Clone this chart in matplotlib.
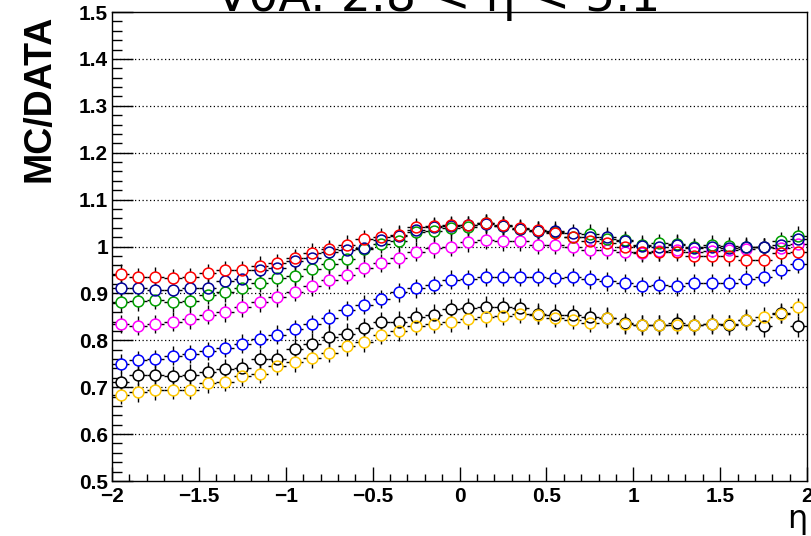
import numpy as np
import matplotlib
matplotlib.use("Agg")
import matplotlib.pyplot as plt
from matplotlib import font_manager
from matplotlib.ticker import MultipleLocator, FuncFormatter

# eta binning: 40 bins between -2 and 2
bin_edges = np.linspace(-2.0, 2.0, 41)
eta = 0.5 * (bin_edges[:-1] + bin_edges[1:])
eta_halfwidth = 0.5 * np.diff(bin_edges)

ratio_red = [0.942, 0.935, 0.936, 0.933, 0.935, 0.943, 0.950, 0.949, 0.959, 0.965,
             0.975, 0.987, 0.994, 1.004, 1.016, 1.020, 1.025, 1.041, 1.043, 1.046,
             1.046, 1.050, 1.046, 1.039, 1.035, 1.028, 1.021, 1.011, 1.007, 1.000,
             0.989, 0.989, 0.989, 0.979, 0.979, 0.979, 0.972, 0.972, 0.986, 0.989]
ratio_navy = [0.911, 0.911, 0.908, 0.908, 0.911, 0.911, 0.926, 0.930, 0.950, 0.954,
              0.970, 0.975, 0.989, 0.993, 0.996, 1.014, 1.023, 1.035, 1.041, 1.043,
              1.046, 1.048, 1.043, 1.037, 1.034, 1.034, 1.028, 1.021, 1.021, 1.011,
              1.001, 1.000, 1.004, 0.996, 0.999, 0.996, 1.000, 0.999, 1.004, 1.016]
ratio_green = [0.881, 0.883, 0.887, 0.881, 0.883, 0.897, 0.902, 0.911, 0.922, 0.933,
               0.938, 0.952, 0.963, 0.973, 0.994, 1.006, 1.011, 1.030, 1.032, 1.039,
               1.041, 1.050, 1.044, 1.037, 1.032, 1.030, 1.021, 1.027, 1.016, 1.013,
               1.004, 1.007, 1.006, 0.999, 1.004, 1.001, 0.999, 0.999, 1.011, 1.023]
ratio_magenta = [0.835, 0.831, 0.835, 0.840, 0.845, 0.855, 0.860, 0.870, 0.881, 0.892,
                 0.904, 0.915, 0.929, 0.940, 0.954, 0.965, 0.975, 0.989, 0.996, 1.000,
                 1.009, 1.014, 1.011, 1.011, 1.004, 1.004, 0.999, 0.993, 0.993, 0.989,
                 0.986, 0.990, 0.993, 0.989, 0.990, 0.992, 0.995, 0.999, 0.996, 1.005]
ratio_blue = [0.750, 0.757, 0.760, 0.767, 0.771, 0.777, 0.784, 0.793, 0.803, 0.812,
              0.824, 0.835, 0.847, 0.864, 0.876, 0.888, 0.902, 0.911, 0.918, 0.929,
              0.930, 0.935, 0.935, 0.935, 0.935, 0.933, 0.935, 0.930, 0.926, 0.922,
              0.915, 0.918, 0.915, 0.922, 0.922, 0.922, 0.930, 0.935, 0.950, 0.963]
ratio_black = [0.711, 0.727, 0.725, 0.723, 0.727, 0.732, 0.738, 0.741, 0.760, 0.760,
               0.782, 0.793, 0.808, 0.814, 0.826, 0.838, 0.840, 0.850, 0.855, 0.867,
               0.869, 0.872, 0.871, 0.869, 0.857, 0.855, 0.853, 0.850, 0.848, 0.836,
               0.833, 0.833, 0.837, 0.833, 0.835, 0.833, 0.844, 0.830, 0.858, 0.830]
ratio_yellow = [0.684, 0.689, 0.693, 0.695, 0.695, 0.708, 0.711, 0.723, 0.729, 0.745,
                0.753, 0.762, 0.774, 0.787, 0.796, 0.812, 0.819, 0.831, 0.835, 0.838,
                0.845, 0.849, 0.852, 0.857, 0.855, 0.848, 0.844, 0.837, 0.848, 0.835,
                0.833, 0.833, 0.833, 0.833, 0.835, 0.835, 0.844, 0.850, 0.857, 0.871]

# statistical uncertainty on each ratio (per series)
ratio_err = {"black": 0.022, "yellow": 0.02, "blue": 0.02, "magenta": 0.02,
             "green": 0.02, "navy": 0.02, "red": 0.02}

series = [
    ("black", ratio_black, "#000000"),
    ("yellow", ratio_yellow, "#ffc800"),
    ("blue", ratio_blue, "#0000ff"),
    ("magenta", ratio_magenta, "#ff00ff"),
    ("green", ratio_green, "#00a000"),
    ("navy", ratio_navy, "#000099"),
    ("red", ratio_red, "#ff0000"),
]

x_ticks_major = 0.5
x_ticks_minor = 0.1
y_ticks_major = 0.1
y_ticks_minor = 0.02
grid_levels = [0.6, 0.7, 0.8, 0.9, 1.0, 1.1, 1.2, 1.3, 1.4]

installed = {f.name for f in font_manager.fontManager.ttflist}
label_font = "Liberation Sans Narrow" if "Liberation Sans Narrow" in installed else "Liberation Sans"


def tick_fmt(v, pos):
    s = "%g" % round(v, 6)
    return s.replace("-", "\u2212")


fig = plt.figure(figsize=(8.12, 5.36), dpi=100)
ax = fig.add_axes([0.138, 0.1026, 0.856, 0.875])

ax.set_xlim(-2, 2)
ax.set_ylim(0.5, 1.5)

for lvl in grid_levels:
    ax.axhline(lvl, color="black", lw=0.9, ls=(0, (1, 2)), zorder=0.5)

# error bars first, then white discs, then hollow coloured rings on top
for name, vals, col in series:
    ax.errorbar(eta, vals, xerr=eta_halfwidth, yerr=ratio_err[name], fmt="none",
                ecolor="black", elinewidth=1.0, capsize=0, zorder=1)
for name, vals, col in series:
    ax.plot(eta, vals, ls="none", marker="o", ms=7.8, mfc="white", mec="none", zorder=2)
for name, vals, col in series:
    ax.plot(eta, vals, ls="none", marker="o", ms=7.8, mfc="none", mec=col, mew=1.1, zorder=3)

ax.xaxis.set_major_locator(MultipleLocator(x_ticks_major))
ax.xaxis.set_minor_locator(MultipleLocator(x_ticks_minor))
ax.yaxis.set_major_locator(MultipleLocator(y_ticks_major))
ax.yaxis.set_minor_locator(MultipleLocator(y_ticks_minor))
ax.xaxis.set_major_formatter(FuncFormatter(tick_fmt))
ax.yaxis.set_major_formatter(FuncFormatter(tick_fmt))

ax.tick_params(axis="x", which="major", direction="in", length=10, width=1.0, pad=4)
ax.tick_params(axis="x", which="minor", direction="in", length=5, width=1.0)
ax.tick_params(axis="y", which="major", direction="in", length=15, width=1.0, pad=3)
ax.tick_params(axis="y", which="minor", direction="in", length=7.5, width=1.0)
ax.tick_params(top=False, right=False, which="both")

for lab in ax.get_xticklabels() + ax.get_yticklabels():
    lab.set_fontfamily(label_font)
    lab.set_fontweight("bold")
    lab.set_fontsize(15)

for sp in ax.spines.values():
    sp.set_linewidth(1.0)

fig.text(0.049, 0.973, "MC/DATA", rotation=90, ha="center", va="top",
         fontfamily="Liberation Sans", fontweight="bold", fontsize=27)
fig.text(0.994, 0.03, "η", ha="right", va="center", fontfamily="DejaVu Sans", fontsize=23)
fig.text(0.540, 0.9795, "V0A: 2.8 < η < 5.1", ha="center", va="baseline",
         fontfamily="DejaVu Sans", fontsize=34)

fig.savefig("out.png", dpi=100)
